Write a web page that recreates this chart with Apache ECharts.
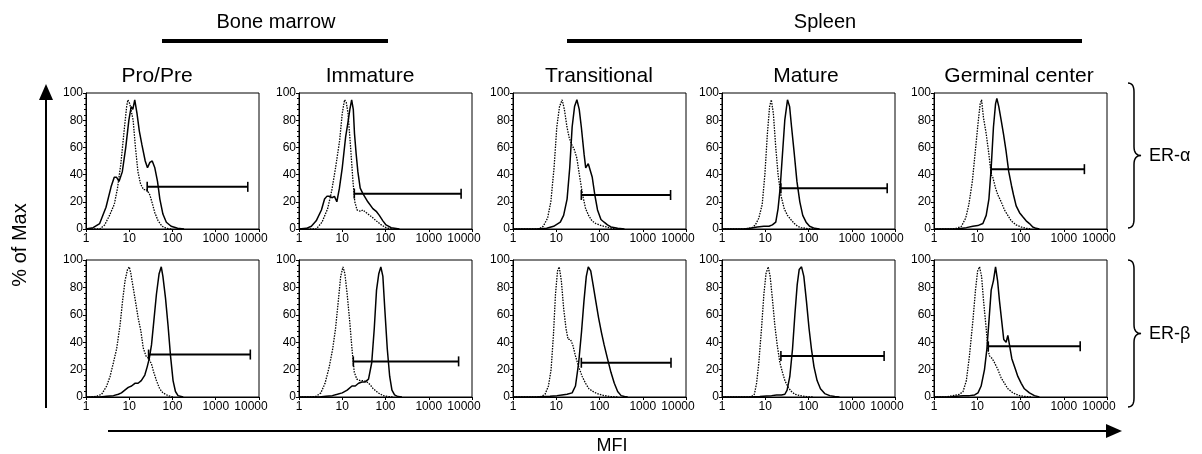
<!DOCTYPE html>
<html><head><meta charset="utf-8">
<script src="https://cdn.jsdelivr.net/npm/echarts@6/dist/echarts.min.js"></script>
<style>html,body{margin:0;padding:0;background:#fff;}#c{width:1202px;height:454px;}</style>
</head><body><div id="c"></div>
<script>
const FONT = '"Liberation Sans", Arial, Helvetica, sans-serif';

// ---- text ----
const panelTitles = ['Pro/Pre', 'Immature', 'Transitional', 'Mature', 'Germinal center'];
const groupLabels = ['Bone marrow', 'Spleen'];
const rowLabels = ['ER-\u03B1', 'ER-\u03B2'];
const yAxisTitle = '% of Max';
const xAxisTitle = 'MFI';
const xTickValues = [1, 10, 100, 1000, 10000];
const yTickValues = [0, 20, 40, 60, 80, 100];

// ---- ER-alpha row: [MFI, % of max] ----
const erAlphaProPreStained = [[1,0],[1.46,1],[2.07,4],[2.9,16],[3.8,31],[4.5,38],[5.1,38],[5.8,35],[6.9,42],[8.3,60],[9.8,80],[11.1,90],[12.1,88],[13.4,95],[15.1,85],[17.1,72],[19.6,62],[23.4,50],[26.4,45],[30,49],[34,50],[39,45],[45,35],[51,22],[60,11],[72,5],[93,2],[131,0.5],[185,0]];
const erAlphaProPreControl = [[1,0],[2.07,0],[2.7,3],[3.5,10],[4.5,18],[5.35,30],[6.4,48],[7.6,72],[8.7,90],[9.3,95],[10.3,92],[11.3,92],[12.3,80],[13.9,60],[15.9,42],[18.3,33],[21.4,29],[25.4,29],[30,25],[34.7,18],[39,12],[46.5,6],[57.5,2],[72,0.5],[93,0]];
const erAlphaImmatureStained = [[1,0],[1.48,0.5],[1.93,2],[2.5,6],[3.3,14],[3.9,22],[4.4,24],[5.1,24],[5.9,23],[6.6,24],[7.5,20],[8.6,30],[10,45],[12,68],[13.5,78],[15,88],[16.5,95],[18,88],[19.2,70],[21,55],[23,42],[26,30],[30,26],[39,20],[51,15],[61,13],[72,10],[87,6],[103,3],[135,1],[210,0]];
const erAlphaImmatureControl = [[1,0],[2.5,0],[3.4,5],[4.6,15],[5.7,28],[7,45],[8.7,65],[10,85],[11.3,95],[12.4,93],[13.6,85],[15.6,60],[17.7,35],[19.5,20],[22,14],[26.4,13],[30,14],[36,12],[47.5,9],[61,6],[80,3],[103,1],[142,0]];
const erAlphaTransitionalStained = [[1,0],[3.5,0],[6,0.5],[8.7,2],[12.4,5],[14.8,10],[17.8,22],[20.5,45],[23.3,75],[26.5,90],[30,95],[34,88],[38,75],[44,55],[48,45],[55,48],[60,48],[68,38],[78,25],[90,14],[108,7],[128,5],[153,3],[184,1.5],[263,0.5],[378,0]];
const erAlphaTransitionalControl = [[1,0],[3.5,0],[4.2,0.5],[5,2],[6.3,8],[7.5,20],[8.9,45],[10.3,75],[11.9,90],[13.7,95],[15.4,88],[17.7,75],[20,67],[22.9,62],[26.4,58],[30,52],[35,38],[40.7,25],[47.7,15],[56,10],[67,6],[82,4],[110,2.5],[145,1.5],[190,0.5],[270,0]];
const erAlphaMatureStained = [[1,0],[3.2,0],[4.5,0.5],[6.5,1.5],[9.3,2],[12.2,2],[14.6,3],[17.5,5],[19.8,15],[22.1,30],[25,55],[28.3,80],[32.7,95],[36.6,90],[40.6,75],[47,55],[54,35],[63,20],[73.6,10],[88,5],[106,2],[138,0.5],[180,0]];
const erAlphaMatureControl = [[1,0],[2.6,0],[3.8,0.3],[5,1],[5.9,3],[7.1,8],[8.5,18],[9.8,40],[11.2,70],[12.6,90],[13.8,95],[15.4,85],[17.5,60],[19.8,40],[22.9,25],[27.4,15],[32.7,10],[39,7],[47,4],[56,2],[67,1],[96,0.3],[130,0]];
const erAlphaGerminalStained = [[1,0],[3.3,0],[5.6,1],[7.9,2],[10.3,2.5],[13.5,4],[16.1,10],[18.6,22],[21,45],[23.7,75],[26.5,92],[28.4,96],[31.5,90],[35.7,80],[40.4,70],[46.5,57],[53.6,42],[61.8,32],[69,25],[79.4,17],[95,12],[113,9],[135,6],[161,4],[192,1.5],[229,0.5],[273,0]];
const erAlphaGerminalControl = [[1,0],[2.3,0],[3.3,0.5],[4.3,2],[5.4,8],[6.4,18],[7.7,35],[9.2,60],[10.6,80],[11.7,92],[12.6,95],[13.9,82],[16.1,70],[18.6,55],[21,40],[22.9,38],[26.5,30],[30,25],[35.7,20],[42.6,14],[51,10],[61,6],[79,3],[103,1.5],[135,0.5],[180,0]];

// ---- ER-beta row ----
const erBetaProPreStained = [[1,0],[2.1,0],[3,0.5],[4.3,1],[5.6,2],[6.6,3],[7.9,5],[9.5,7],[11.3,8],[13.5,10],[16,10],[19,12],[22.9,16],[26,22],[29,28],[32.7,38],[36.9,55],[42.5,75],[49,90],[55,95],[60,88],[69,72],[79,52],[90,30],[103,12],[117,4],[134,1],[177,0]];
const erBetaProPreControl = [[1,0],[1.24,0],[1.76,0.5],[2.3,2],[3,8],[3.6,15],[4.3,25],[5.1,35],[6.1,52],[7,70],[8,85],[9.1,93],[10,95],[10.9,90],[12.3,80],[13.9,70],[16,58],[18.6,48],[21,36],[24.3,30],[28.5,28],[32.7,24],[36.9,18],[42.5,12],[50.6,6],[60,3],[79,1],[103,0]];
const erBetaImmatureStained = [[1,0],[2.95,0],[4.2,0.5],[5.9,1],[7.7,2],[10,3],[13,5],[16.8,8],[20,8],[23.8,10],[28.5,11],[34,11],[40.5,13],[48,25],[55,50],[62,78],[70,90],[78,95],[87,88],[96,65],[110,35],[125,15],[141,5],[162,1.5],[194,0.3],[240,0]];
const erBetaImmatureControl = [[1,0],[1.9,0],[2.5,0.5],[3.2,3],[4,10],[5,22],[6,35],[7,50],[8.1,70],[9.2,88],[10.4,95],[11.5,90],[13,75],[14.9,55],[16.8,35],[19,18],[21.8,13],[26,12],[31,12],[37,11],[44,9],[52,6],[68,3],[88,1],[114,0.3],[150,0]];
const erBetaTransitionalStained = [[1,0],[3.5,0],[7.2,0.5],[10.4,1],[13.6,1.5],[17.8,2],[23.3,3],[27.8,8],[33,25],[38.5,48],[43.7,70],[49.5,88],[55,95],[62.7,92],[71,82],[82,70],[95,58],[111,47],[128,38],[153,28],[184,18],[220,10],[263,4],[316,1],[378,0.3],[450,0]];
const erBetaTransitionalControl = [[1,0],[3.5,0],[4.6,0.5],[5.5,2],[6.6,8],[7.6,20],[8.6,45],[9.6,75],[10.7,92],[11.7,95],[13.1,85],[14.8,65],[16.8,50],[18.8,42],[21.3,42],[24.1,38],[27.8,30],[33,22],[39.8,15],[47.6,10],[57,6],[75,3.5],[98,2],[128,1],[184,0.3],[260,0]];
const erBetaMatureStained = [[1,0],[4.4,0],[7.5,0.3],[10.7,0.8],[14,1],[18.3,1.5],[23.8,1.5],[28.4,2],[32,5],[37,15],[42.7,35],[48.4,60],[54.8,82],[60.9,93],[69,95],[78,88],[89.6,70],[103,50],[117,35],[134,22],[158,12],[189,6],[237,2.5],[310,1],[405,0.3],[520,0]];
const erBetaMatureControl = [[1,0],[3.7,0],[4.8,0.3],[5.6,2],[6.3,10],[7.1,25],[8.2,50],[9.3,75],[10.4,90],[11.7,95],[13,88],[14.8,70],[16.7,52],[18.9,38],[21.8,25],[25,18],[28.4,12],[34,7],[40.4,4],[48.4,2],[63,1],[90,0.3],[125,0]];
const erBetaGerminalStained = [[1,0],[2.3,0],[3.3,0.5],[4.7,1],[6.6,1],[8.7,1.5],[10.4,3],[12.3,8],[14.7,20],[16.7,35],[18.6,55],[21,78],[23.7,85],[26.5,95],[29.5,85],[32.7,70],[36.9,55],[41,42],[46.5,40],[51,45],[55.6,38],[63,28],[69,28],[76.7,20],[86.8,15],[104,10],[123,6],[161,3],[210,1],[273,0]];
const erBetaGerminalControl = [[1,0],[1.9,0],[2.7,1],[3.9,2],[4.7,4],[5.6,12],[6.6,30],[7.9,55],[9.1,78],[10.2,92],[11.3,95],[12.6,88],[14,70],[16.1,50],[17.6,35],[19.2,30],[22.2,28],[25.1,25],[30,20],[35.7,14],[42.6,10],[51,6],[66.6,3],[95,1],[135,0.3],[180,0]];

// ---- gates: [start MFI, end MFI, level %] ----
const erAlphaGates = [[26,5500,31],[19,5600,26],[38,4400,25],[23,6600,30],[21,3000,44]];
const erBetaGates  = [[28,6300,31],[18,4900,26],[38,4500,25],[23,5600,30],[18,2400,37]];

const stainedRows = [
  [erAlphaProPreStained, erAlphaImmatureStained, erAlphaTransitionalStained, erAlphaMatureStained, erAlphaGerminalStained],
  [erBetaProPreStained, erBetaImmatureStained, erBetaTransitionalStained, erBetaMatureStained, erBetaGerminalStained]
];
const controlRows = [
  [erAlphaProPreControl, erAlphaImmatureControl, erAlphaTransitionalControl, erAlphaMatureControl, erAlphaGerminalControl],
  [erBetaProPreControl, erBetaImmatureControl, erBetaTransitionalControl, erBetaMatureControl, erBetaGerminalControl]
];
const gateRows = [erAlphaGates, erBetaGates];

// ---- layout ----
const colLeft = [86, 299, 513, 722, 934], colW = 173;
const rowTop = [93, 260], rowH = [136, 137];
const titleX = [157, 370, 599, 806, 1019];

const grids = [], xAxes = [], yAxes = [], series = [];
const labelStyle = { color: '#000', fontSize: 12, fontFamily: FONT };
let idx = 0;
for (let r = 0; r < 2; r++) {
  for (let c = 0; c < 5; c++) {
    grids.push({ left: colLeft[c], top: rowTop[r], width: colW, height: rowH[r], show: true, borderColor: '#000', borderWidth: 1, backgroundColor: 'transparent', containLabel: false });
    xAxes.push({
      type: 'log', logBase: 10, min: xTickValues[0], max: xTickValues[xTickValues.length - 1], gridIndex: idx, splitNumber: 4,
      axisLine: { show: true, lineStyle: { color: '#000', width: 1 } },
      axisTick: { show: true, length: 3, lineStyle: { color: '#000' } },
      splitLine: { show: false },
      axisLabel: Object.assign({}, labelStyle, {
        margin: 4,
        formatter: v => { const s = String(Math.round(v)); return Math.round(v) === 10000 ? '{last|' + s + '}' : s; },
        rich: { last: Object.assign({}, labelStyle, { padding: [0, 16, 0, 0] }) }
      })
    });
    yAxes.push({
      type: 'value', min: yTickValues[0], max: yTickValues[yTickValues.length - 1], interval: 20, gridIndex: idx,
      axisLine: { show: true, lineStyle: { color: '#000', width: 1 } },
      axisTick: { show: true, length: 3, lineStyle: { color: '#000' } },
      minorTick: { show: true, splitNumber: 5, length: 2, lineStyle: { color: '#000' } },
      splitLine: { show: false },
      axisLabel: Object.assign({}, labelStyle, { margin: 3 })
    });
    series.push({
      type: 'line', xAxisIndex: idx, yAxisIndex: idx, data: controlRows[r][c], symbol: 'none', silent: true, animation: false,
      lineStyle: { color: '#000', width: 1.3, type: [1.5, 1.2] }, z: 2
    });
    series.push({
      type: 'line', xAxisIndex: idx, yAxisIndex: idx, data: stainedRows[r][c], symbol: 'none', silent: true, animation: false,
      lineStyle: { color: '#000', width: 1.5 }, z: 3
    });
    const g = gateRows[r][c];
    series.push({
      type: 'line', xAxisIndex: idx, yAxisIndex: idx, data: [[g[0], g[2]], [g[1], g[2]]], symbol: 'rect', symbolSize: [1.6, 10], showSymbol: true,
      silent: true, animation: false, itemStyle: { color: '#000' }, lineStyle: { color: '#000', width: 2 }, z: 4
    });
    idx++;
  }
}

function txt(x, y, text, size, extra, align) {
  return Object.assign({ type: 'text', x: x, y: y, silent: true,
    style: { text: text, fill: '#000', fontSize: size, fontFamily: FONT, align: align || 'center', verticalAlign: 'middle', textAlign: align || 'center', textVerticalAlign: 'middle' } }, extra || {});
}
// brace drawn as a sampled polyline of quadratic curves
function quad(p0, c, p1, out) {
  for (let i = 0; i <= 8; i++) {
    const t = i / 8, u = 1 - t;
    out.push([u * u * p0[0] + 2 * u * t * c[0] + t * t * p1[0], u * u * p0[1] + 2 * u * t * c[1] + t * t * p1[1]]);
  }
}
function brace(x0, top, bot) {
  const mid = (top + bot) / 2, xm = x0 + 6, xt = x0 + 13, r = 9, pts = [];
  quad([x0, top], [xm, top], [xm, top + r], pts);
  quad([xm, mid - r], [xm, mid], [xt, mid], pts);
  quad([xt, mid], [xm, mid], [xm, mid + r], pts);
  quad([xm, bot - r], [xm, bot], [x0, bot], pts);
  return { type: 'polyline', silent: true, shape: { points: pts }, style: { stroke: '#000', lineWidth: 1.5, fill: null } };
}

const graphics = [
  txt(276, 22, groupLabels[0], 20),
  { type: 'line', silent: true, shape: { x1: 162, y1: 41, x2: 388, y2: 41 }, style: { stroke: '#000', lineWidth: 4 } },
  txt(825, 22, groupLabels[1], 20),
  { type: 'line', silent: true, shape: { x1: 567, y1: 41, x2: 1082, y2: 41 }, style: { stroke: '#000', lineWidth: 4 } },
  { type: 'line', silent: true, shape: { x1: 46, y1: 408, x2: 46, y2: 98 }, style: { stroke: '#000', lineWidth: 2 } },
  { type: 'polygon', silent: true, shape: { points: [[46, 84], [39, 100], [53, 100]] }, style: { fill: '#000' } },
  { type: 'line', silent: true, shape: { x1: 108, y1: 431, x2: 1108, y2: 431 }, style: { stroke: '#000', lineWidth: 2 } },
  { type: 'polygon', silent: true, shape: { points: [[1122, 431], [1106, 424], [1106, 438]] }, style: { fill: '#000' } },
  txt(20, 245, yAxisTitle, 20, { rotation: Math.PI / 2 }),
  txt(612, 446, xAxisTitle, 18),
  brace(1128, 83, 228),
  brace(1128, 260, 407),
  txt(1149, 156, rowLabels[0], 18, null, 'left'),
  txt(1149, 334, rowLabels[1], 18, null, 'left')
];
panelTitles.forEach((t, i) => graphics.push(txt(titleX[i], 76, t, 21)));

const chart = echarts.init(document.getElementById('c'), null, { renderer: 'canvas' });
chart.setOption({
  animation: false,
  backgroundColor: '#fff',
  grid: grids, xAxis: xAxes, yAxis: yAxes, series: series,
  graphic: { elements: graphics }
});
</script></body></html>
